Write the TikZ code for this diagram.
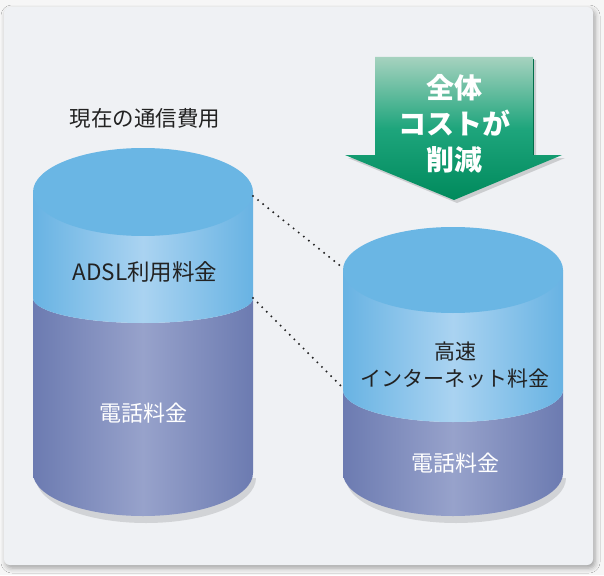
\documentclass[tikz,border=0pt]{standalone}
\usepackage{fontspec}
\newfontfamily\cjk{Noto Sans CJK JP}
\usetikzlibrary{shadows.blur}
\definecolor{pagebg}{HTML}{F6F6F6}
\definecolor{panel}{HTML}{EFF1F4}
\definecolor{blueedge}{HTML}{68B3E3}
\definecolor{bluemid}{HTML}{AAD3F1}
\definecolor{bluetop}{HTML}{6AB6E4}
\definecolor{puredge}{HTML}{6C7BB1}
\definecolor{purmid}{HTML}{97A2CB}
\definecolor{gtop}{HTML}{A6D2BF}
\definecolor{gmid}{HTML}{1EA57C}
\definecolor{gbot}{HTML}{008A5C}
\definecolor{gdark}{HTML}{006E4A}
\definecolor{txt}{HTML}{222222}
\tikzset{
  band/.style={left color=blueedge,right color=blueedge,middle color=bluemid},
  base/.style={left color=puredge,right color=puredge,middle color=purmid},
  topell/.style={fill=bluetop},
  lbl/.style={font=\cjk\fontsize{21.5}{26}\selectfont,text=txt,align=center},
  wlbl/.style={font=\cjk\fontsize{22}{26}\selectfont,text=white,align=center},
  arrtxt/.style={font=\cjk\bfseries\fontsize{28}{36}\selectfont,text=white,align=center},
  dots/.style={line width=2.2pt,line cap=round,dash pattern=on 0pt off 6.5pt,draw=txt},
}
\begin{document}
\begin{tikzpicture}[x=1pt,y=-1pt]
\useasboundingbox (0,0) rectangle (604,575);
\fill[pagebg] (0,0) rectangle (604,575);
% panel
\fill[panel,rounded corners=6pt,blur shadow={shadow xshift=2pt,shadow yshift=-3pt,shadow blur radius=5pt,shadow opacity=35}] (4,7) rectangle (593,565);

% ---- left cylinder ----
\fill[black,opacity=0.12] (36,478) arc[start angle=180,end angle=0,x radius=110,y radius=45] -- cycle;
\path[base] (33,298) -- (33,473) arc[start angle=180,end angle=0,x radius=110,y radius=43] -- (253,298) arc[start angle=0,end angle=180,x radius=110,y radius=25] -- cycle;
\path[band] (33,192) -- (33,298) arc[start angle=180,end angle=0,x radius=110,y radius=25] -- (253,192) -- cycle;
\fill[topell] (143,192) ellipse[x radius=110,y radius=44];
\coordinate (L1) at (253,196);
\coordinate (L2) at (253,298);

% ---- right cylinder ----
\fill[black,opacity=0.12] (346,478) arc[start angle=180,end angle=0,x radius=110,y radius=45] -- cycle;
\path[base] (343,390) -- (343,473) arc[start angle=180,end angle=0,x radius=110,y radius=43] -- (563,390) arc[start angle=0,end angle=180,x radius=110,y radius=32] -- cycle;
\path[band] (343,270) -- (343,390) arc[start angle=180,end angle=0,x radius=110,y radius=32] -- (563,270) -- cycle;
\fill[topell] (453,270) ellipse[x radius=110,y radius=43];
\coordinate (R1) at (343,268);
\coordinate (R2) at (343,388);

% dotted connectors
\draw[dots] (L1) -- (R1);
\draw[dots] (L2) -- (R2);

% labels
\node[lbl] (title) at (145,118) {現在の通信費用};
\node[lbl,font=\cjk\fontsize{22.5}{26}\selectfont] (adsl) at (145,272) {ADSL利用料金};
\node[wlbl] (tel1) at (143,413) {電話料金};
\node[lbl,font=\cjk\fontsize{21}{27}\selectfont] (net) at (455,365) {高速\\インターネット料金};
\node[wlbl] (tel2) at (455,463) {電話料金};

% arrow
\fill[black,opacity=0.15] (378,60) -- (536,60) -- (536,158) -- (565,158) -- (457,203) -- (348,158) -- (378,158) -- cycle;
\shade[top color=gtop,bottom color=gbot,middle color=gmid] (375,57) -- (533,57) -- (533,155) -- (562,155) -- (454,200) -- (345,155) -- (375,155) -- cycle;
\draw[gdark,line width=1.5pt] (533.5,59) -- (533.5,155);
\node[arrtxt] (cut) at (454,124) {全体\\コストが\\削減};
\end{tikzpicture}
\end{document}
